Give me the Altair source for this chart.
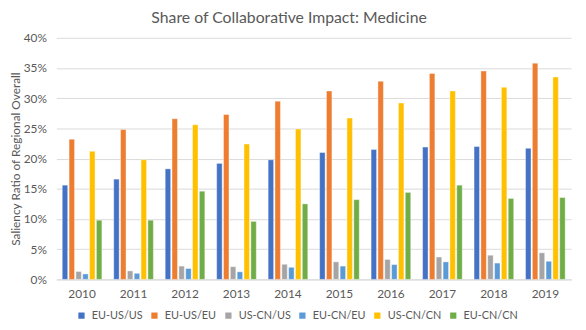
import altair as alt
import pandas as pd

years = ["2010", "2011", "2012", "2013", "2014", "2015", "2016", "2017", "2018", "2019"]
series = ["EU-US/US", "EU-US/EU", "US-CN/US", "EU-CN/EU", "US-CN/CN", "EU-CN/CN"]
colors = ["#4472C4", "#ED7D31", "#A5A5A5", "#5B9BD5", "#FFC000", "#70AD47"]

eu_us_us = [15.6, 16.6, 18.3, 19.2, 19.8, 21.0, 21.5, 21.9, 22.0, 21.7]
eu_us_eu = [23.2, 24.8, 26.6, 27.3, 29.5, 31.2, 32.8, 34.1, 34.5, 35.8]
us_cn_us = [1.3, 1.4, 2.2, 2.1, 2.5, 2.9, 3.3, 3.7, 4.0, 4.4]
eu_cn_eu = [0.9, 1.0, 1.8, 1.25, 2.0, 2.2, 2.45, 2.9, 2.7, 3.0]
us_cn_cn = [21.2, 19.8, 25.6, 22.4, 24.9, 26.7, 29.2, 31.2, 31.8, 33.5]
eu_cn_cn = [9.8, 9.8, 14.6, 9.6, 12.5, 13.2, 14.4, 15.6, 13.4, 13.55]

values = [eu_us_us, eu_us_eu, us_cn_us, eu_cn_eu, us_cn_cn, eu_cn_cn]
rows = []
for s, vals in zip(series, values):
    for y, v in zip(years, vals):
        rows.append({"Year": y, "Series": s, "Value": v / 100.0})
df = pd.DataFrame(rows)

FONT = "Lato"
GRAY = "#595959"

chart = alt.Chart(df).mark_bar(stroke="white", strokeWidth=0.4).encode(
    x=alt.X("Year:N", sort=years,
            scale=alt.Scale(paddingInner=0.23, paddingOuter=0.115),
            axis=alt.Axis(title=None, labelAngle=0, ticks=False, labelPadding=9,
                          domainColor="#d9d9d9", labelFontSize=12, labelColor=GRAY,
                          labelFont=FONT, grid=False)),
    xOffset=alt.XOffset("Series:N", sort=series,
                        scale=alt.Scale(domain=series, paddingInner=0.2, paddingOuter=0)),
    y=alt.Y("Value:Q",
            scale=alt.Scale(domain=[0, 0.4], nice=False),
            axis=alt.Axis(title="Saliency Ratio of Regional Overall", format=".0%",
                          values=[0, 0.05, 0.1, 0.15, 0.2, 0.25, 0.3, 0.35, 0.4],
                          ticks=False, domain=False, labelPadding=10, gridColor="#d9d9d9",
                          labelFontSize=12, labelColor=GRAY, labelFont=FONT,
                          titleFont=FONT, titleFontSize=12, titleColor=GRAY,
                          titleFontWeight="normal", titlePadding=1)),
    color=alt.Color("Series:N", sort=series,
                    scale=alt.Scale(domain=series, range=colors),
                    legend=alt.Legend(title=None, orient="none", direction="horizontal",
                                      legendX=20, legendY=276, symbolType="square",
                                      symbolSize=40, symbolStrokeWidth=0, labelFont=FONT,
                                      labelFontSize=11, labelColor=GRAY, labelOffset=5,
                                      columnPadding=6)),
).properties(
    width=522,
    height=245,
    title=alt.TitleParams("Share of Collaborative Impact: Medicine", font=FONT,
                          fontSize=16, fontWeight="normal", color=GRAY, anchor="middle",
                          dx=-25, offset=6),
    autosize=alt.AutoSizeParams(type="none"),
    padding={"left": 49, "top": 28, "right": 7, "bottom": 40},
).configure_view(stroke=None)

chart.save("out.html", embed_options={"renderer": "svg", "actions": False})
